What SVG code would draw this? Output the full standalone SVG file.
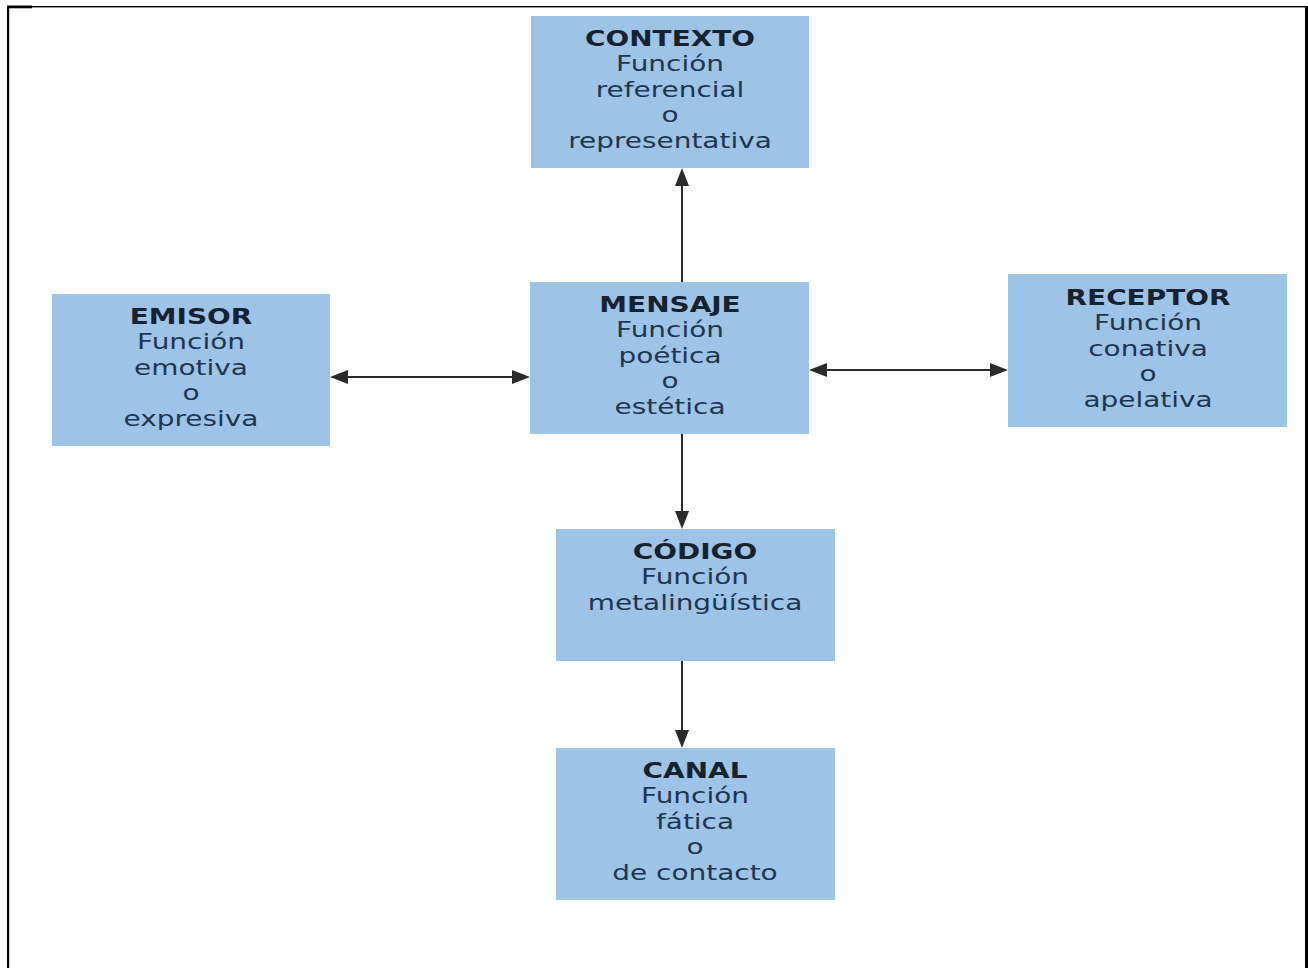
<svg xmlns="http://www.w3.org/2000/svg" width="1308" height="968" viewBox="0 0 1308 968">
<style>
.box{fill:#9dc3e6;}
.t{font-family:"DejaVu Sans","Liberation Sans",sans-serif;font-size:22px;text-anchor:middle;fill:#1f3650;}
.h{font-weight:bold;fill:#18222e;}
.ln{stroke:#2b2b2b;stroke-width:2;fill:none;marker-end:url(#ah);}
.bi{marker-start:url(#ah);}
</style>
<defs>
<marker id="ah" markerUnits="userSpaceOnUse" markerWidth="18" markerHeight="14" refX="0" refY="7" orient="auto-start-reverse">
<path d="M0,0 L18,7 L0,14 z" fill="#2b2b2b"/>
</marker>
</defs>
<rect width="1308" height="968" fill="#ffffff"/>
<g id="frame" fill="#000">
<rect x="7" y="6" width="1301" height="1.4"/>
<rect x="7" y="5.5" width="25" height="2.8"/>
<rect x="7" y="6" width="2.2" height="962"/>
<rect x="1305" y="6" width="3" height="962"/>
</g>
<g id="connectors">
<line class="ln" x1="682" y1="282" x2="682" y2="186"/>
<line class="ln bi" x1="348" y1="377" x2="512" y2="377"/>
<line class="ln bi" x1="827" y1="370" x2="990" y2="370"/>
<line class="ln" x1="682" y1="434" x2="682" y2="511"/>
<line class="ln" x1="682" y1="661" x2="682" y2="730"/>
</g>
<g id="contexto">
<rect class="box" x="531" y="16" width="278" height="152"/>
<g transform="translate(670,2) scale(1.27,1)">
<text class="t h" x="0" y="44">CONTEXTO</text>
<text class="t" x="0" y="69.5">Función</text>
<text class="t" x="0" y="95">referencial</text>
<text class="t" x="0" y="120.5">o</text>
<text class="t" x="0" y="146">representativa</text>
</g>
</g>
<g id="emisor">
<rect class="box" x="52" y="294" width="278" height="152"/>
<g transform="translate(191,2) scale(1.27,1)">
<text class="t h" x="0" y="322">EMISOR</text>
<text class="t" x="0" y="347.5">Función</text>
<text class="t" x="0" y="373">emotiva</text>
<text class="t" x="0" y="398.5">o</text>
<text class="t" x="0" y="424">expresiva</text>
</g>
</g>
<g id="mensaje">
<rect class="box" x="530" y="282" width="279" height="152"/>
<g transform="translate(670,2) scale(1.27,1)">
<text class="t h" x="0" y="310">MENSAJE</text>
<text class="t" x="0" y="335.5">Función</text>
<text class="t" x="0" y="361">poética</text>
<text class="t" x="0" y="386.5">o</text>
<text class="t" x="0" y="412">estética</text>
</g>
</g>
<g id="receptor">
<rect class="box" x="1008" y="274" width="279" height="153"/>
<g transform="translate(1148,2) scale(1.27,1)">
<text class="t h" x="0" y="303">RECEPTOR</text>
<text class="t" x="0" y="328.5">Función</text>
<text class="t" x="0" y="354">conativa</text>
<text class="t" x="0" y="379.5">o</text>
<text class="t" x="0" y="405">apelativa</text>
</g>
</g>
<g id="codigo">
<rect class="box" x="556" y="529" width="279" height="132"/>
<g transform="translate(695,2) scale(1.27,1)">
<text class="t h" x="0" y="557">CÓDIGO</text>
<text class="t" x="0" y="582.5">Función</text>
<text class="t" x="0" y="608">metalingüística</text>
</g>
</g>
<g id="canal">
<rect class="box" x="556" y="748" width="279" height="152"/>
<g transform="translate(695,2) scale(1.27,1)">
<text class="t h" x="0" y="776">CANAL</text>
<text class="t" x="0" y="801.5">Función</text>
<text class="t" x="0" y="827">fática</text>
<text class="t" x="0" y="852.5">o</text>
<text class="t" x="0" y="878">de contacto</text>
</g>
</g>
</svg>
